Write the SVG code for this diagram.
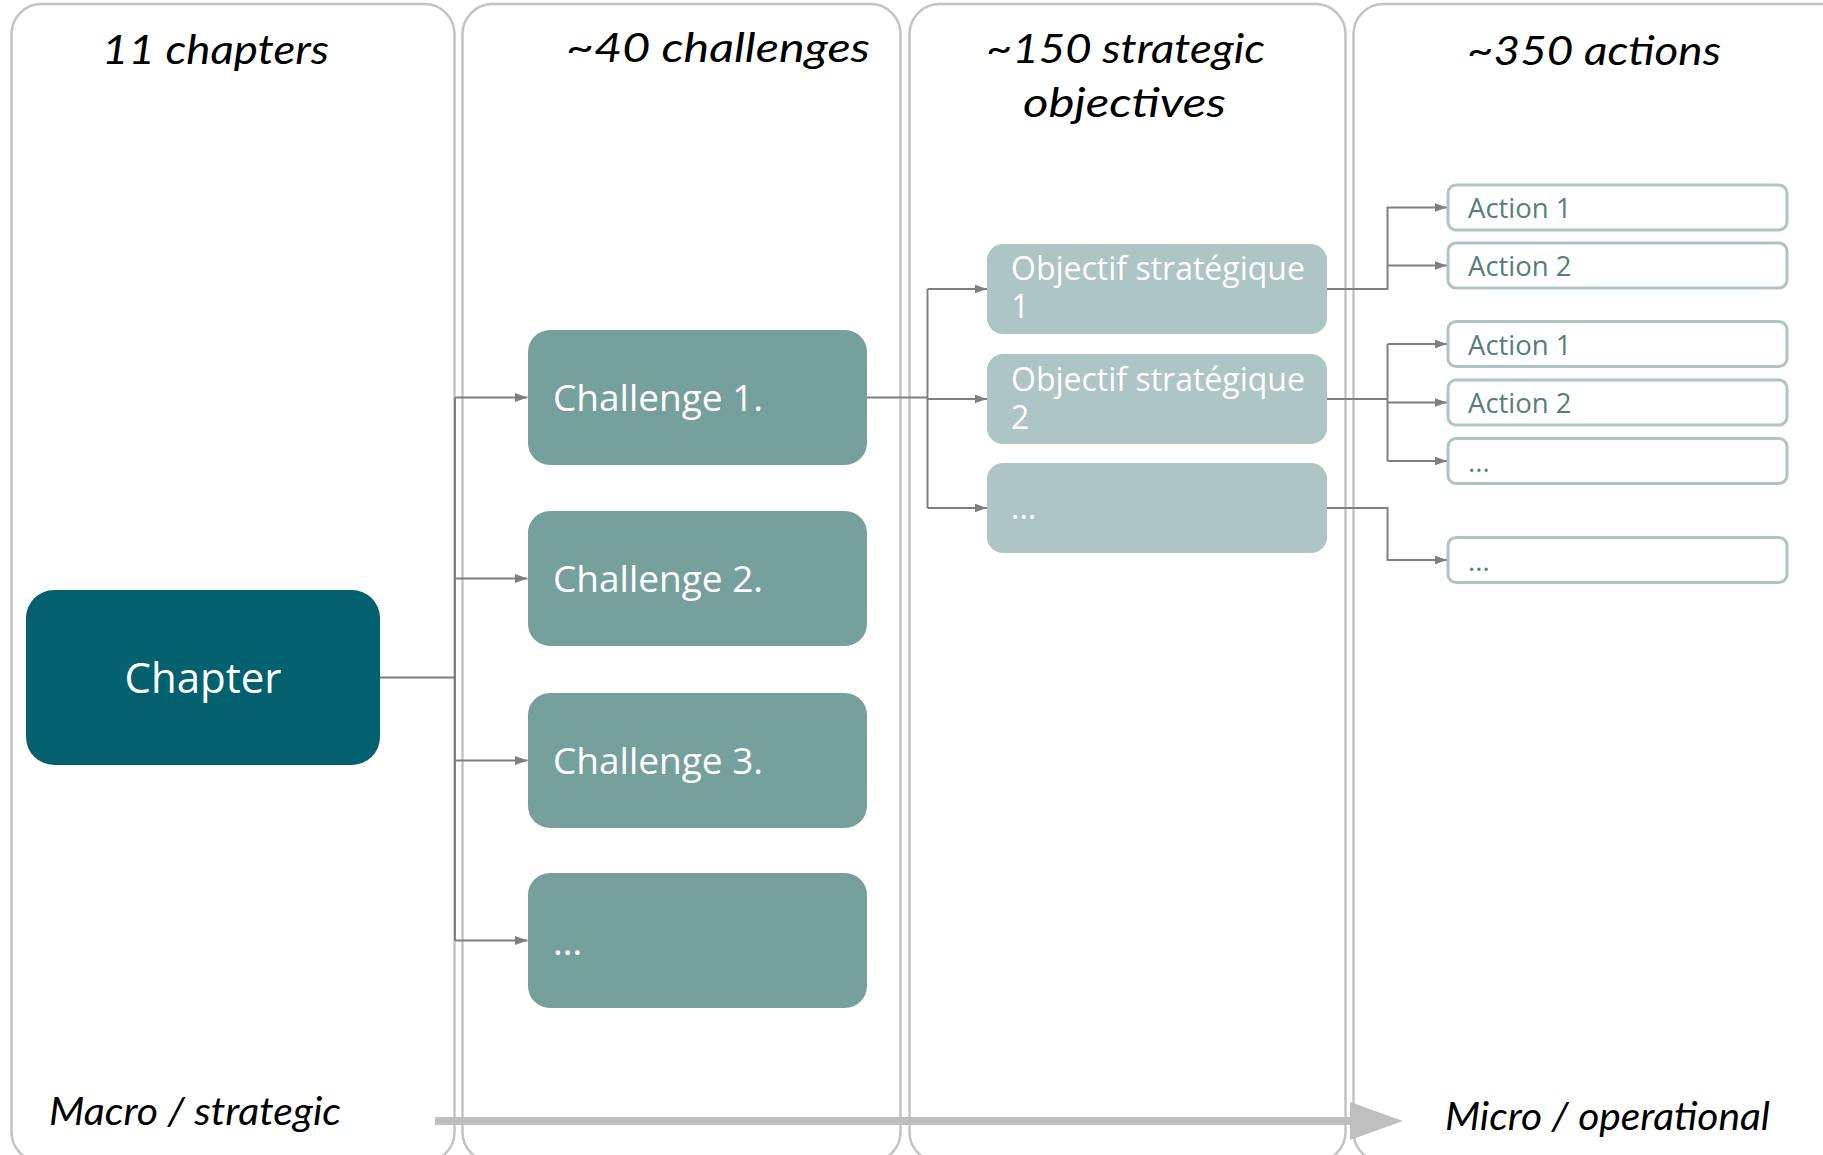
<svg xmlns="http://www.w3.org/2000/svg" width="1823" height="1155" viewBox="0 0 1823 1155">
<style>
.panel{fill:#ffffff;stroke:#c3c3c3;stroke-width:2.5}
.hdr{font-family:Lato,"Open Sans",sans-serif;font-style:italic;font-weight:400;font-size:40px;fill:#000}
.side{font-family:Lato,"Open Sans",sans-serif;font-style:italic;font-weight:400;font-size:38px;fill:#000}
.chap{fill:#03606f}
.chal{fill:#76a09c}
.obj{fill:#adc5c4}
.act{fill:#ffffff;stroke:#adc5c4;stroke-width:3}
.wt{font-family:"Open Sans","Noto Sans",sans-serif;fill:#ffffff}
.at{font-family:"Open Sans","Noto Sans",sans-serif;fill:#557f7b;font-size:27.5px}
.conn{fill:none;stroke:#7f7f7f;stroke-width:2}
</style>
<defs>
<marker id="ah" markerWidth="13" markerHeight="9" refX="12.5" refY="4.5" orient="auto" markerUnits="userSpaceOnUse">
<path d="M0,0 L12.5,4.5 L0,9 Z" fill="#7f7f7f"/>
</marker>
</defs>
<rect width="1823" height="1155" fill="#ffffff"/>
<g id="panels">
<rect class="panel" x="11.5" y="4" width="443" height="1158" rx="30"/>
<rect class="panel" x="462.5" y="4" width="438" height="1158" rx="30"/>
<rect class="panel" x="909.5" y="4" width="436" height="1158" rx="30"/>
<rect class="panel" x="1353.5" y="4" width="520" height="1158" rx="30"/>
</g>
<g id="headers">
<text class="hdr" x="102" y="64" textLength="227" lengthAdjust="spacingAndGlyphs">11 chapters</text>
<text class="hdr" x="566" y="62" textLength="304" lengthAdjust="spacingAndGlyphs">~40 challenges</text>
<text class="hdr" x="986" y="63" textLength="279" lengthAdjust="spacingAndGlyphs">~150 strategic</text>
<text class="hdr" x="1023" y="117" textLength="203" lengthAdjust="spacingAndGlyphs">objectives</text>
<text class="hdr" x="1467" y="65" textLength="254" lengthAdjust="spacingAndGlyphs">~350 actions</text>
</g>
<g id="scale-arrow">
<rect x="435" y="1117" width="918" height="8" fill="#bfbfbf"/>
<path d="M1350,1102 L1403,1121 L1350,1140 Z" fill="#bfbfbf"/>
<text class="side" x="49" y="1125" textLength="292" lengthAdjust="spacingAndGlyphs">Macro / strategic</text>
<text class="side" x="1445" y="1130" textLength="325" lengthAdjust="spacingAndGlyphs">Micro / operational</text>
</g>
<g id="connectors">
<path class="conn" d="M380,677.5 H455"/>
<path class="conn" d="M455,397.5 V940.5"/>
<path class="conn" d="M455,397.5 H527.5" marker-end="url(#ah)"/>
<path class="conn" d="M455,578.5 H527.5" marker-end="url(#ah)"/>
<path class="conn" d="M455,760.5 H527.5" marker-end="url(#ah)"/>
<path class="conn" d="M455,940.5 H527.5" marker-end="url(#ah)"/>
<path class="conn" d="M867,397.5 H927.5"/>
<path class="conn" d="M927.5,289 V508"/>
<path class="conn" d="M927.5,289 H987" marker-end="url(#ah)"/>
<path class="conn" d="M927.5,399 H987" marker-end="url(#ah)"/>
<path class="conn" d="M927.5,508 H987" marker-end="url(#ah)"/>
<path class="conn" d="M1327,289 H1387.5 V207.5 H1447" marker-end="url(#ah)"/>
<path class="conn" d="M1387.5,265.5 H1447" marker-end="url(#ah)"/>
<path class="conn" d="M1327,399 H1387.5"/>
<path class="conn" d="M1387.5,344 V461"/>
<path class="conn" d="M1387.5,344 H1447" marker-end="url(#ah)"/>
<path class="conn" d="M1387.5,402.5 H1447" marker-end="url(#ah)"/>
<path class="conn" d="M1387.5,461 H1447" marker-end="url(#ah)"/>
<path class="conn" d="M1327,508 H1387.5 V560 H1447" marker-end="url(#ah)"/>
</g>
<g id="chapter">
<rect class="chap" x="26" y="590" width="354" height="175" rx="28"/>
<text class="wt" x="203" y="693" text-anchor="middle" font-size="42">Chapter</text>
</g>
<g id="challenge1">
<rect class="chal" x="528" y="330" width="339" height="135" rx="22"/>
<text class="wt" x="553" y="411" font-size="37">Challenge 1.</text>
</g>
<g id="challenge2">
<rect class="chal" x="528" y="511" width="339" height="135" rx="22"/>
<text class="wt" x="553" y="592" font-size="37">Challenge 2.</text>
</g>
<g id="challenge3">
<rect class="chal" x="528" y="693" width="339" height="135" rx="22"/>
<text class="wt" x="553" y="774" font-size="37">Challenge 3.</text>
</g>
<g id="challenge-more">
<rect class="chal" x="528" y="873" width="339" height="135" rx="22"/>
<text class="wt" x="553" y="955" font-size="37">...</text>
</g>
<g id="objective1">
<rect class="obj" x="987" y="244" width="340" height="90" rx="16"/>
<text class="wt" x="1011" y="279.5" font-size="32">Objectif stratégique</text>
<text class="wt" x="1011" y="317.5" font-size="32">1</text>
</g>
<g id="objective2">
<rect class="obj" x="987" y="354" width="340" height="90" rx="16"/>
<text class="wt" x="1011" y="390.5" font-size="32">Objectif stratégique</text>
<text class="wt" x="1011" y="428.5" font-size="32">2</text>
</g>
<g id="objective-more">
<rect class="obj" x="987" y="463" width="340" height="90" rx="16"/>
<text class="wt" x="1011" y="518.5" font-size="32">...</text>
</g>
<g id="action1a">
<rect class="act" x="1448" y="185" width="339" height="45" rx="8"/>
<text class="at" x="1468" y="218">Action 1</text>
</g>
<g id="action2a">
<rect class="act" x="1448" y="243" width="339" height="45" rx="8"/>
<text class="at" x="1468" y="276">Action 2</text>
</g>
<g id="action1b">
<rect class="act" x="1448" y="321.5" width="339" height="45" rx="8"/>
<text class="at" x="1468" y="355">Action 1</text>
</g>
<g id="action2b">
<rect class="act" x="1448" y="380" width="339" height="45" rx="8"/>
<text class="at" x="1468" y="413">Action 2</text>
</g>
<g id="action-more-b">
<rect class="act" x="1448" y="438.5" width="339" height="45" rx="8"/>
<text class="at" x="1468" y="472">...</text>
</g>
<g id="action-more-c">
<rect class="act" x="1448" y="537.5" width="339" height="45" rx="8"/>
<text class="at" x="1468" y="571">...</text>
</g>
</svg>
